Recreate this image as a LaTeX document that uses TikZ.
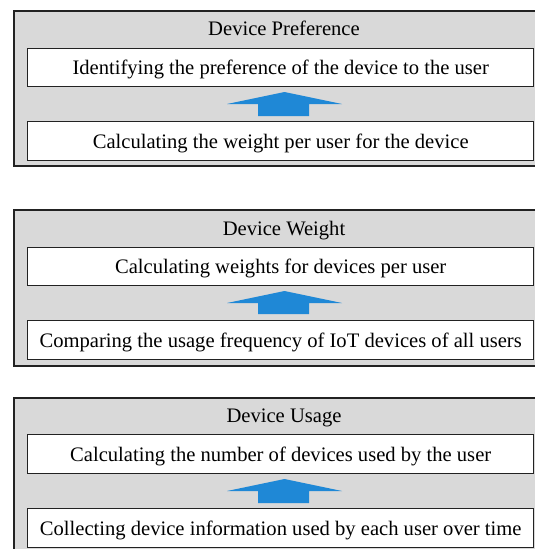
\documentclass[tikz,border=0pt]{standalone}
\usepackage{fontspec}
\setmainfont{Liberation Serif}
\definecolor{panelgray}{RGB}{217,217,217}
\definecolor{flowblue}{RGB}{31,136,214}
\definecolor{edgeline}{RGB}{34,34,34}
\tikzset{
  panel/.style={draw=edgeline, line width=1.4pt, fill=panelgray},
  stepbox/.style={draw=edgeline, line width=1.4pt, fill=white, inner sep=0pt,
    text height=16pt, text depth=2pt,
    font=\fontsize{20.6}{22}\selectfont},
  paneltitle/.style={inner sep=0pt, anchor=base, font=\fontsize{20.6}{22}\selectfont},
  uparrow/.style={fill=flowblue, draw=none}
}
% block arrow pointing up: #1 = tip y, #2 = head base y, #3 = stem bottom y
\newcommand{\blockarrow}[3]{%
  \fill[uparrow] (284.5,#1) -- (342,#2) -- (309,#2) -- (309,#3)
    -- (258,#3) -- (258,#2) -- (227,#2) -- cycle;}
% box spanning x 27..533 between two y values
\newcommand{\stepnode}[4]{%
  \node[stepbox, minimum width=506pt, minimum height={(#3-#2)*1pt}, anchor=north west]
    (#1) at (27,#2) {#4};}
\begin{document}
\begin{tikzpicture}[x=1pt, y=-1pt]
  \useasboundingbox (0,0) rectangle (535,549);

  % ---- Device Preference ----
  \draw[panel] (14,11) rectangle (545,166);
  \node[paneltitle] (t1) at (284,35.5) {Device Preference};
  \stepnode{p1top}{48}{86}{Identifying the preference of the device to the user}
  \stepnode{p1bot}{121}{160}{Calculating the weight per user for the device}
  \blockarrow{92}{104}{116}

  % ---- Device Weight ----
  \draw[panel] (14,210) rectangle (545,366);
  \node[paneltitle] (t2) at (284,235) {Device Weight};
  \stepnode{p2top}{247}{285}{Calculating weights for devices per user}
  \stepnode{p2bot}{320}{359}{Comparing the usage frequency of IoT devices of all users}
  \blockarrow{291}{303}{314}

  % ---- Device Usage ----
  \draw[panel] (14,398) rectangle (545,570);
  \node[paneltitle] (t3) at (284,422) {Device Usage};
  \stepnode{p3top}{434}{473}{Calculating the number of devices used by the user}
  \stepnode{p3bot}{508}{547}{Collecting device information used by each user over time}
  \blockarrow{479}{491}{503}
\end{tikzpicture}
\end{document}
